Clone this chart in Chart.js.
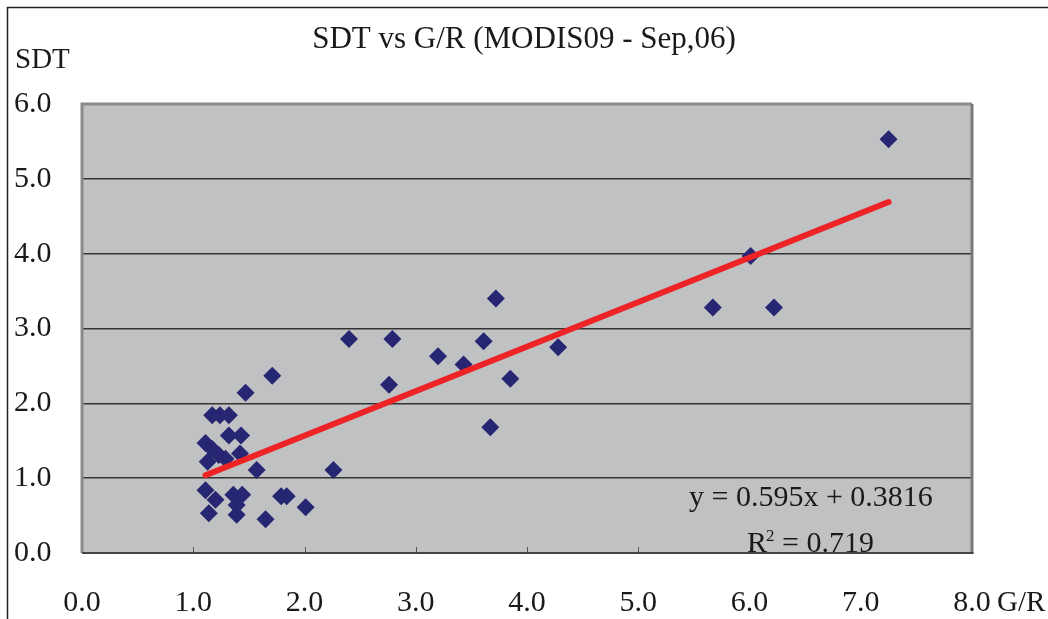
<!DOCTYPE html>
<html><head><meta charset="utf-8">
<script src="https://cdn.jsdelivr.net/npm/chart.js@4.4.1/dist/chart.umd.min.js"></script>
<style>html,body{margin:0;padding:0;background:#fff;}canvas{display:block;}</style>
</head><body>
<canvas id="c" width="1048" height="619"></canvas>
<script>
const chartTitle = 'SDT vs G/R (MODIS09 - Sep,06)';
const yAxisLabel = 'SDT';
const xAxisLabel = 'G/R';
const xTickValues = [0, 1, 2, 3, 4, 5, 6, 7, 8];
const yTickValues = [0, 1, 2, 3, 4, 5, 6];
const grValues = [7.25, 6.01, 5.67, 6.22, 4.28, 3.72, 3.61, 3.43, 3.85, 3.20,
  3.67, 2.79, 2.40, 2.76, 2.26, 2.01, 1.71, 1.47, 1.84, 1.79,
  1.65, 1.57, 1.17, 1.24, 1.32, 1.32, 1.43, 1.42, 1.11, 1.17,
  1.23, 1.29, 1.13, 1.11, 1.20, 1.14, 1.36, 1.44, 1.39, 1.39];
const sdtValues = [5.53, 3.97, 3.28, 3.28, 2.75, 3.40, 2.83, 2.52, 2.33, 2.63,
  1.68, 2.86, 2.86, 2.25, 1.11, 0.61, 2.37, 2.14, 0.76, 0.76,
  0.45, 1.11, 1.84, 1.84, 1.84, 1.57, 1.57, 1.33, 1.47, 1.39,
  1.31, 1.26, 1.22, 0.84, 0.71, 0.53, 0.78, 0.78, 0.64, 0.51];
const trendX = [1.11, 7.25];
const trendY = [1.04, 4.69];
const equationText = 'y = 0.595x + 0.3816';
const r2Value = '0.719';

const FONT = "'Liberation Serif', 'DejaVu Serif', serif";
const TXT = '#1a1a1a';

const deco = {
  id: 'deco',
  beforeDraw(chart) {
    const {ctx, chartArea: a} = chart;
    ctx.save();
    ctx.fillStyle = '#ffffff';
    ctx.fillRect(0, 0, chart.width, chart.height);
    ctx.fillStyle = '#C0C1C3';
    ctx.fillRect(a.left, a.top, a.right - a.left, a.bottom - a.top);
    ctx.strokeStyle = '#222';
    ctx.lineWidth = 1.5;
    ctx.beginPath();
    ctx.moveTo(7.5, chart.height);
    ctx.lineTo(7.5, 7.5);
    ctx.lineTo(chart.width, 7.5);
    ctx.stroke();
    ctx.restore();
  },
  afterDraw(chart) {
    const {ctx, chartArea: a, scales} = chart;
    const xs = scales.x;
    ctx.save();
    ctx.lineWidth = 3;
    ctx.strokeStyle = '#8a8a8a';
    ctx.beginPath();
    ctx.moveTo(a.left, a.bottom); ctx.lineTo(a.left, a.top); ctx.lineTo(a.right, a.top);
    ctx.stroke();
    ctx.strokeStyle = '#7a7a7a';
    ctx.beginPath();
    ctx.moveTo(a.right, a.top); ctx.lineTo(a.right, a.bottom);
    ctx.stroke();
    ctx.lineWidth = 2;
    ctx.strokeStyle = '#444';
    ctx.beginPath();
    ctx.moveTo(a.left, a.bottom); ctx.lineTo(a.right + 1.5, a.bottom);
    ctx.stroke();
    ctx.lineWidth = 1;
    ctx.strokeStyle = '#555';
    xTickValues.slice(1, -1).forEach(v => {
      const px = Math.round(xs.getPixelForValue(v)) + 0.5;
      ctx.beginPath(); ctx.moveTo(px, a.bottom); ctx.lineTo(px, a.bottom - 6); ctx.stroke();
    });
    ctx.fillStyle = TXT;
    ctx.font = `31px ${FONT}`;
    ctx.textAlign = 'center';
    ctx.textBaseline = 'middle';
    ctx.fillText(chartTitle, 524, 40);
    ctx.font = `29px ${FONT}`;
    ctx.textAlign = 'left';
    ctx.fillText(yAxisLabel, 15, 60);
    ctx.fillText(xAxisLabel, xs.getPixelForValue(8) + 25, 603);
    ctx.textBaseline = 'alphabetic';
    ctx.font = `30px ${FONT}`;
    ctx.fillText(equationText, 689, 506);
    ctx.fillText('R', 747, 552);
    ctx.fillText('= ' + r2Value, 782, 552);
    ctx.font = `17px ${FONT}`;
    ctx.fillText('2', 766, 541);
    ctx.restore();
  }
};

new Chart(document.getElementById('c'), {
  type: 'scatter',
  data: {
    datasets: [
      {
        label: 'trend',
        data: trendX.map((x, i) => ({x, y: trendY[i]})),
        showLine: true,
        borderColor: '#EE2326',
        borderWidth: 6,
        borderCapStyle: 'round',
        pointRadius: 0,
        fill: false,
        order: 0
      },
      {
        label: 'SDT',
        data: grValues.map((x, i) => ({x, y: sdtValues[i]})),
        pointStyle: 'rectRot',
        pointRadius: 9,
        backgroundColor: '#262673',
        borderWidth: 0,
        order: 1
      }
    ]
  },
  options: {
    responsive: false,
    animation: false,
    devicePixelRatio: 1,
    layout: {padding: {left: 14, right: 76, top: 104, bottom: 0}},
    plugins: {legend: {display: false}, tooltip: {enabled: false}, title: {display: false}},
    scales: {
      x: {
        type: 'linear', min: 0, max: 8,
        afterBuildTicks: s => { s.ticks = xTickValues.map(v => ({value: v})); },
        ticks: {callback: v => v.toFixed(1), font: {family: FONT, size: 30}, color: TXT, padding: 32, maxRotation: 0},
        grid: {display: false, drawTicks: false},
        border: {display: false},
        afterFit: s => { s.height = 66; }
      },
      y: {
        type: 'linear', min: 0, max: 6,
        afterBuildTicks: s => { s.ticks = yTickValues.map(v => ({value: v})); },
        ticks: {callback: v => v.toFixed(1), font: {family: FONT, size: 30}, color: TXT, padding: 0, crossAlign: 'far'},
        grid: {color: '#333', lineWidth: 1.5, drawTicks: false},
        border: {display: false},
        afterFit: s => { s.width = 68; }
      }
    }
  },
  plugins: [deco]
});
</script>
</body></html>
